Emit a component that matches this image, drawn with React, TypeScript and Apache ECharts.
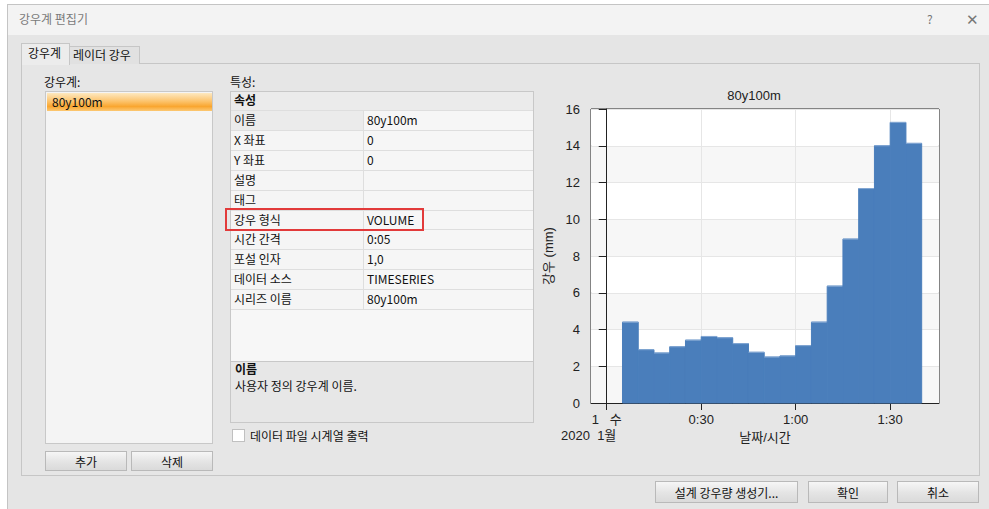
import React, { useEffect, useRef } from "react";
import * as echarts from "echarts";

// ---- data ----
const gageNames = ["80y100m"];
const propertyNames = ["이름", "X 좌표", "Y 좌표", "설명", "태그", "강우 형식", "시간 간격", "포설 인자", "데이터 소스", "시리즈 이름"];
const propertyValues = ["80y100m", "0", "0", "", "", "VOLUME", "0:05", "1,0", "TIMESERIES", "80y100m"];
const chartTitle = "80y100m";
// interval start / end, minutes after 2020-01-01 0:00
const intervalStartMin = [5, 10, 15, 20, 25, 30, 35, 40, 45, 50, 55, 60, 65, 70, 75, 80, 85, 90, 95];
const intervalEndMin = [10, 15, 20, 25, 30, 35, 40, 45, 50, 55, 60, 65, 70, 75, 80, 85, 90, 95, 100];
const rainfallMm = [4.4, 2.9, 2.72, 3.06, 3.42, 3.62, 3.55, 3.23, 2.76, 2.5, 2.56, 3.12, 4.4, 6.36, 8.92, 11.67, 14.0, 15.27, 14.13];
const xTickMinutes = [0, 30, 60, 90];
const xTickLabels = ["1   수", "0:30", "1:00", "1:30"];
const dateLabel = "2020  1월";
const xAxisName = "날짜/시간";
const yAxisName = "강우 (mm)";

const UI_FONT = "'Noto Sans CJK KR', 'Noto Sans', sans-serif";
const CHART_FONT = "'Liberation Sans', Arial, 'Noto Sans CJK KR', sans-serif";

type S = React.CSSProperties;
const abs = (l: number, t: number, w: number, h: number, extra: S = {}): S => ({
  position: "absolute",
  left: l,
  top: t,
  width: w,
  height: h,
  boxSizing: "border-box",
  ...extra,
});
const txt = (l: number, cy: number, extra: S = {}): S => ({
  position: "absolute",
  left: l,
  top: cy - 9,
  height: 18,
  lineHeight: "18px",
  whiteSpace: "nowrap",
  ...extra,
});
const btnStyle: S = {
  background: "linear-gradient(#f6f6f6, #e4e4e4 55%, #dadada)",
  border: "1px solid #b9b9b9",
  display: "flex",
  alignItems: "center",
  justifyContent: "center",
  color: "#111",
};

function Chart() {
  const ref = useRef<HTMLDivElement>(null);
  useEffect(() => {
    if (!ref.current) return;
    const chart = echarts.init(ref.current, undefined, { renderer: "svg" });
    const data = rainfallMm.map((v, i) => [intervalStartMin[i], intervalEndMin[i], v]);
    chart.setOption({
      animation: false,
      title: {
        text: chartTitle,
        left: "center",
        top: 9,
        textStyle: { fontSize: 13, fontWeight: "normal", color: "#222", fontFamily: CHART_FONT },
      },
      grid: {
        left: 71,
        top: 34,
        right: 49,
        bottom: 47,
        outerBoundsMode: "none",
        containLabel: false,
        show: true,
        backgroundColor: "#ffffff",
        borderColor: "#222",
        borderWidth: 1,
      },
      xAxis: {
        type: "value",
        min: -5,
        max: 105.5,
        name: xAxisName,
        nameLocation: "middle",
        nameGap: 26,
        nameTextStyle: { fontSize: 13, color: "#222", fontFamily: CHART_FONT },
        axisLine: { show: true, lineStyle: { color: "#222", width: 1 } },
        axisTick: { show: true, length: 7, customValues: xTickMinutes, lineStyle: { color: "#222" } },
        axisLabel: {
          customValues: xTickMinutes,
          margin: 10,
          fontSize: 13,
          color: "#222",
          fontFamily: CHART_FONT,
          formatter: (v: number) => {
            const i = xTickMinutes.indexOf(v);
            return i >= 0 ? xTickLabels[i] : "";
          },
        },
        splitLine: { show: true, lineStyle: { color: "#e6e6e6", width: 1 } },
      },
      yAxis: {
        type: "value",
        min: 0,
        max: 16,
        interval: 2,
        name: yAxisName,
        nameLocation: "middle",
        nameRotate: 90,
        nameGap: 36,
        nameTextStyle: { fontSize: 13, color: "#222", fontFamily: CHART_FONT },
        axisLine: { show: true, lineStyle: { color: "#222", width: 1 } },
        axisTick: { show: true, length: 8, lineStyle: { color: "#222" } },
        axisLabel: { fontSize: 13, color: "#222", margin: 11, fontFamily: CHART_FONT },
        splitLine: { show: true, lineStyle: { color: "#e6e6e6", width: 1 } },
        splitArea: { show: true, areaStyle: { color: ["#f7f7f7", "#ffffff"] } },
      },
      graphic: [
        {
          type: "text",
          left: 41,
          top: 354,
          style: { text: dateLabel, fontSize: 13, fill: "#222", fontFamily: CHART_FONT },
        },
      ],
      series: [
        {
          type: "custom",
          data,
          encode: { x: [0, 1], y: 2 },
          renderItem: (params: any, api: any) => {
            const s = api.coord([api.value(0), api.value(2)]);
            const e = api.coord([api.value(1), 0]);
            return {
              type: "group",
              children: [
                {
                  type: "rect",
                  shape: { x: s[0], y: s[1], width: e[0] - s[0], height: e[1] - s[1] },
                  style: { fill: "#4a7ebb", stroke: "#4a7ebb", lineWidth: 1 },
                },
                {
                  type: "line",
                  shape: { x1: s[0], y1: s[1], x2: e[0], y2: s[1] },
                  style: { stroke: "#86a9d4", lineWidth: 1 },
                },
              ],
            };
          },
        },
      ],
    });
    return () => chart.dispose();
  }, []);
  return <div ref={ref} style={abs(520, 75, 468, 375)} />;
}

export default function App() {
  const rowTop = (i: number) => 110 + i * 19.9;
  return (
    <div
      style={{
        position: "fixed",
        left: 0,
        top: 0,
        width: 989,
        height: 509,
        background: "#ffffff",
        overflow: "hidden",
        fontFamily: UI_FONT,
        fontSize: 12,
        color: "#111",
      }}
    >
      {/* dialog frame */}
      <div style={abs(7, 4, 984, 507, { background: "#e5e5e5", border: "1px solid #c4c4c4" })} />
      <div style={abs(8, 5, 981, 30, { background: "#f3f3f3" })} />
      <div style={txt(19, 19, { color: "#7a7a7a" })}>강우계 편집기</div>
      <div style={txt(927, 19, { color: "#777" })}>?</div>
      <div style={txt(966, 19, { color: "#777", fontSize: 15 })}>✕</div>

      {/* tab panel */}
      <div style={abs(21, 63, 959, 413, { background: "#e6e6e6", border: "1px solid #c6c6c6" })} />
      <div style={abs(69, 46, 71, 18, { background: "#e1e1e1", border: "1px solid #c6c6c6", borderBottom: "none" })} />
      <div style={txt(73, 55)}>레이더 강우</div>
      <div style={abs(21, 43, 49, 22, { background: "#ececec", border: "1px solid #c6c6c6", borderBottom: "none" })} />
      <div style={txt(28, 53)}>강우계</div>

      {/* left list */}
      <div style={txt(44, 82)}>강우계:</div>
      <div style={abs(45, 91, 168, 353, { background: "#f4f4f4", border: "1px solid #c8c8c8" })} />
      <div
        style={abs(47, 93, 165, 18, {
          background: "linear-gradient(#fde8c0, #fcc46e 45%, #f9a630 75%, #fcc873)",
        })}
      />
      {gageNames.map((n, i) => (
        <div key={n} style={txt(52, 102 + i * 18)}>
          {n}
        </div>
      ))}
      <div style={abs(45, 451, 82, 20, btnStyle)}>추가</div>
      <div style={abs(131, 451, 82, 20, btnStyle)}>삭제</div>

      {/* property grid */}
      <div style={txt(230, 82)}>특성:</div>
      <div style={abs(230, 91, 304, 332, { background: "#f7f7f7", border: "1px solid #c8c8c8" })} />
      <div style={abs(231, 92, 302, 18, { background: "#ebebeb" })} />
      <div style={txt(234, 100, { fontWeight: 700 })}>속성</div>
      {propertyNames.map((p, i) => (
        <React.Fragment key={p}>
          <div
            style={abs(231, rowTop(i), 133, 20, {
              background: i === 0 ? "#ebebeb" : "#f5f5f5",
              borderTop: "1px solid #dedede",
              borderRight: "1px solid #dedede",
            })}
          />
          <div style={abs(364, rowTop(i), 169, 20, { background: "#f6f6f6", borderTop: "1px solid #dedede" })} />
          <div style={txt(234, rowTop(i) + 10)}>{p}</div>
          <div style={txt(367, rowTop(i) + 10)}>{propertyValues[i]}</div>
        </React.Fragment>
      ))}
      <div style={abs(231, rowTop(10), 302, 1, { background: "#dedede" })} />
      <div style={abs(231, 361, 302, 61, { background: "#e7e7e7", borderTop: "1px solid #c8c8c8" })} />
      <div style={txt(235, 369, { fontWeight: 700 })}>이름</div>
      <div style={txt(235, 386)}>사용자 정의 강우계 이름.</div>

      {/* highlight */}
      <div style={abs(225, 208, 199, 23, { border: "2px solid #e23a3a" })} />

      {/* checkbox */}
      <div style={abs(232, 429, 13, 13, { background: "#fff", border: "1px solid #c0c0c0" })} />
      <div style={txt(250, 436)}>데이터 파일 시계열 출력</div>

      {/* chart */}
      <Chart />

      {/* bottom buttons */}
      <div style={abs(655, 481, 143, 22, btnStyle)}>설계 강우량 생성기...</div>
      <div style={abs(808, 481, 80, 22, btnStyle)}>확인</div>
      <div style={abs(897, 481, 82, 22, btnStyle)}>취소</div>
    </div>
  );
}
